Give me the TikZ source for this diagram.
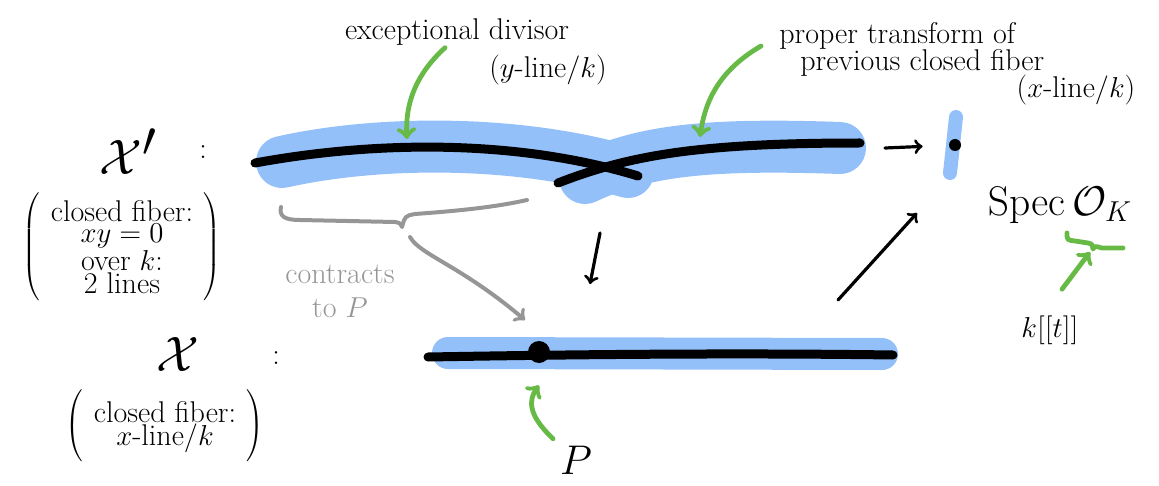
\documentclass[tikz,border=0pt]{standalone}
\usepackage{amsmath,amssymb}
\usetikzlibrary{matrix}
\definecolor{bandblue}{RGB}{148,192,250}
\definecolor{markgreen}{RGB}{104,186,70}
\definecolor{penGray}{RGB}{150,150,150}

\begin{document}
\begin{tikzpicture}[x=0.5pt,y=-0.5pt,
    hand/.style={font=\fontsize{15}{17}\selectfont, inner sep=1pt},
    big/.style={font=\fontsize{36}{40}\selectfont},
    band/.style={draw=bandblue,line cap=round,line join=round},
    fiber/.style={draw=black,line width=4.5pt,line cap=round},
    pen/.style={draw=black,line width=1.6pt,line cap=round,->},
    greenpen/.style={draw=markgreen,line width=2.4pt,line cap=round,line join=round},
    graypen/.style={draw=penGray,line width=2pt,line cap=round,line join=round},
    dot/.style={circle,fill=black,inner sep=0pt}]

\useasboundingbox (0,0) rectangle (1159,486);

% the two models
\node[big] (xp) at (128,152) {$\mathcal{X}'$};
\node[hand] (xpcolon) at (203,152) {:};
\matrix [matrix of nodes,left delimiter={(},right delimiter={)},nodes={hand,inner sep=0pt},row sep=1pt,inner sep=4pt] (xpfib) at (122,247)
{
    closed fiber:\\
    $xy=0$\\
    over $k$:\\
    2 lines\\
};
\node[big] (x) at (178,354) {$\mathcal{X}$};
\node[hand] (xcolon) at (276,358) {:};
\matrix [matrix of nodes,left delimiter={(},right delimiter={)},nodes={hand,inner sep=0pt},row sep=1pt,inner sep=4pt] (xfib) at (165,427)
{
    closed fiber:\\
    $x$-line$/k$\\
};

% blown up fiber
\draw[band,line width=26pt] (282,162) .. controls (380,140) and (520,140) .. (628,172);
\draw[band,line width=26pt] (585,178) .. controls (640,152) and (700,143) .. (840,148);
\draw[fiber] (255,163) .. controls (380,140) and (520,140) .. (638,176);
\draw[fiber] (558,183) .. controls (630,155) and (700,143) .. (860,143);
\coordinate (exctip) at (407,139);
\coordinate (proptip) at (700,137);

% labels on top
\node[hand] (excdiv) at (457,32) {exceptional divisor};
\node[hand] (excdivk) at (548,70) {($y$-line$/k$)};
\node[hand,anchor=west] (proptr) at (777,36) {proper transform of};
\node[hand,anchor=west] (proptrprev) at (798,63) {previous closed fiber};
\node[hand] (proptrk) at (1076,90) {($x$-line$/k$)};
\draw[greenpen,->] ([xshift=-6pt]excdiv.south) .. controls (415,75) and (405,105) .. (exctip);
\draw[greenpen,->] ([xshift=-8pt,yshift=-5pt]proptr.west) .. controls (720,70) and (705,100) .. (proptip);

% the base
\draw[band,line width=7pt] (956,117) -- (950,173);
\node[dot,minimum size=6pt] (specpt) at (955,145) {};
\coordinate (topend) at (885,148);
\draw[pen,shorten >=13pt] (topend) -- (specpt);
\node[font=\fontsize{20}{24}\selectfont] (spec) at (1060,205) {$\mathrm{Spec}\,\mathcal{O}_K$};
\draw[greenpen] (1067,233) .. controls (1067,240) .. (1075,241) -- (1088,243)
    .. controls (1092,244) .. (1093,249) .. controls (1095,246) .. (1102,248) -- (1123,248);
\coordinate (okbrace) at (1090,252);
\node[hand] (kt) at (1050,330) {$k[[t]]$};
\draw[greenpen,->] ([shift={(6pt,12pt)}]kt.north) -- (okbrace);

% maps
\coordinate (downtop) at (600,233);
\coordinate (downbot) at (590,284);
\draw[pen] (downtop) -- (downbot);
\coordinate (diagbot) at (838,300);
\coordinate (diagtop) at (917,213);
\draw[pen] (diagbot) -- (diagtop);

% contracted fiber
\draw[band,line width=16pt] (448,353) -- (882,354);
\draw[fiber] (428,357) .. controls (600,354) and (750,353) .. (893,355);
\node[dot,minimum size=11pt] (pdot) at (539,352) {};
\node[font=\fontsize{22}{26}\selectfont] (plabel) at (576,460) {$P$};
\draw[greenpen,->] (plabel.north west) .. controls (528,415) and (528,400) .. ([yshift=-11pt]pdot.south);

% what gets contracted
\draw[graypen] (281,207) .. controls (279,216) and (284,220) .. (300,220) -- (395,222)
    .. controls (400,223) .. (402,227) .. controls (405,216) .. (415,214)
    .. controls (470,210) and (500,206) .. (527,200);
\coordinate (bracetip) at (410,237);
\coordinate (contrtip) at (525,320);
\draw[graypen,->] (bracetip) .. controls (420,255) and (460,265) .. (contrtip);
\node[hand,text=penGray,align=center] (contr) at (340,291) {contracts\\to $P$};
\end{tikzpicture}
\end{document}
